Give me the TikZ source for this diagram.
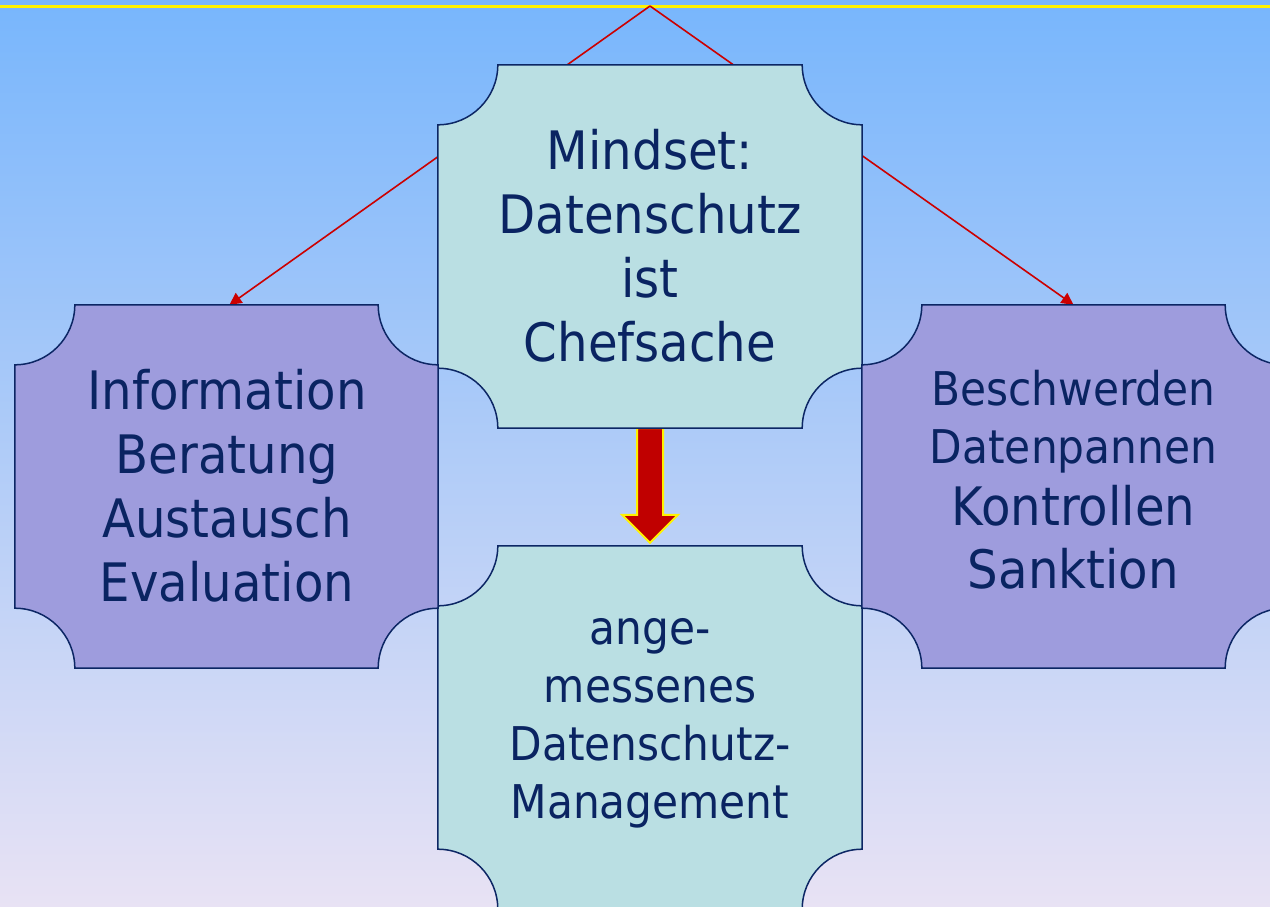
\documentclass[tikz,border=0pt]{standalone}
\usepackage{fontspec}
\setmainfont{DejaVu Sans}[FakeStretch=0.91]
\usetikzlibrary{arrows.meta,calc}
\definecolor{bgtop}{RGB}{120,182,252}
\definecolor{bgbot}{RGB}{232,226,244}
\definecolor{cyanbox}{RGB}{186,223,227}
\definecolor{violetbox}{RGB}{158,156,221}
\definecolor{navy}{RGB}{12,38,100}
\definecolor{txtblue}{RGB}{10,36,98}
\definecolor{arrowred}{RGB}{192,0,0}
\definecolor{linered}{RGB}{204,0,0}
\newcommand\bigtxt{\fontsize{53}{64}\selectfont}
\newcommand\smalltxt{\fontsize{46.5}{58}\selectfont}
\newcommand\plaque[2]{%
  \filldraw[fill=#2, draw=navy, line width=1.5pt]
  ([xshift=60pt]#1.north west) -- ([xshift=-60pt]#1.north east)
  arc[start angle=180,end angle=270,radius=60pt]
  -- ([yshift=60pt]#1.south east)
  arc[start angle=90,end angle=180,radius=60pt]
  -- ([xshift=60pt]#1.south west)
  arc[start angle=0,end angle=90,radius=60pt]
  -- ([yshift=-60pt]#1.north west)
  arc[start angle=270,end angle=360,radius=60pt] -- cycle;}
\tikzset{
  frame/.style={rectangle, inner sep=0pt, minimum width=423pt, minimum height=363pt},
  boxtext/.style={text=txtblue, align=center, inner sep=0pt},
  redline/.style={draw=linered, line width=1.6pt, -{Triangle[length=12pt,width=12pt]}},
  blockarrow/.style={fill=arrowred, draw=yellow, line width=2pt, line join=miter}
}
\begin{document}
\begin{tikzpicture}[x=1pt,y=-1pt]
\useasboundingbox (0,0) rectangle (1270,906);
\clip (0,0) rectangle (1270,906);
\fill[top color=bgtop, bottom color=bgbot] (0,0) rectangle (1270,906);
\draw[yellow, line width=3pt] (0,6) -- (1270,6);
\coordinate (apex) at (650,6);
% frames
\node[frame, minimum width=424pt] (top) at (650,246.5) {};
\node[frame, minimum width=424pt] (bottom) at (650,727.5) {};
\node[frame] (left) at (226.5,486.5) {};
\node[frame] (right) at (1073.5,486.5) {};
% connectors
\draw[redline] (apex) -- ([xshift=3pt]left.north);
\draw[redline] (apex) -- (right.north);
\filldraw[blockarrow] ($(top.south)+(-13,0)$) -- ($(bottom.north)+(-13,-31)$)
  -- ($(bottom.north)+(-28,-31)$) -- ($(bottom.north)+(0,-3)$)
  -- ($(bottom.north)+(28,-31)$) -- ($(bottom.north)+(13,-31)$)
  -- ($(top.south)+(13,0)$) -- cycle;
% plaques
\plaque{top}{cyanbox}
\plaque{bottom}{cyanbox}
\plaque{left}{violetbox}
\plaque{right}{violetbox}
% texts
\node[boxtext, font=\bigtxt] (toptext) at (650,246) {Mindset:\\Datenschutz\\ist\\Chefsache};
\node[boxtext, font=\bigtxt] (lefttext) at (227,486) {Information\\Beratung\\Austausch\\Evaluation};
\node[boxtext, font=\bigtxt] (righttext) at (1073.5,480) {{\smalltxt Beschwerden}\\[-6pt]{\smalltxt Datenpannen}\\[-2pt]Kontrollen\\[-1pt]Sanktion};
\node[boxtext, font=\smalltxt] (bottomtext) at (650,723.5) {ange-\\messenes\\Datenschutz-\\Management};
\end{tikzpicture}
\end{document}
